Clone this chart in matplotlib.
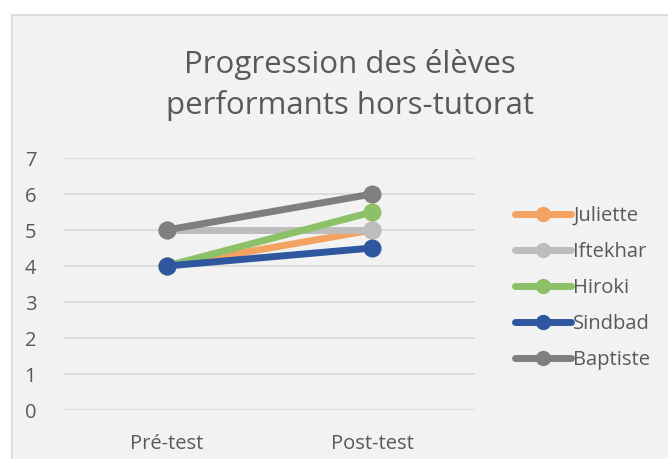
import matplotlib.pyplot as plt
from matplotlib.patches import Rectangle

plt.rcParams['font.family'] = ['Open Sans', 'DejaVu Sans']

categories = ["Pré-test", "Post-test"]
names = ["Juliette", "Iftekhar", "Hiroki", "Sindbad", "Baptiste"]
scores = [
    [4, 5],
    [5, 5],
    [4, 5.5],
    [4, 4.5],
    [5, 6],
]
colors = ["#F4A261", "#BDBDBD", "#8CC168", "#2F57A0", "#7F7F7F"]

text_col = "#595959"
bg = "#F2F2F2"

fig = plt.figure(figsize=(6.68, 4.59), dpi=100)
fig.patch.set_facecolor("white")
# chart area frame (cut off at right and bottom like the screenshot)
fig.patches.append(Rectangle((12 / 668, -0.05), 1.0, 1 - 15 / 459 + 0.05,
                             transform=fig.transFigure, facecolor=bg,
                             edgecolor="#D9D9D9", linewidth=1.2, zorder=-10))

ax = fig.add_axes([64 / 668, 1 - 410 / 459, 411 / 668, 252 / 459])
ax.set_facecolor(bg)
ax.patch.set_alpha(0)

x = [0, 1]
for name, vals, c in zip(names, scores, colors):
    ax.plot(x, vals, color=c, linewidth=5, marker="o", markersize=12,
            label=name, solid_capstyle="round")

ax.set_xlim(-0.5, 1.5)
ax.set_ylim(0, 7)
ax.set_yticks(range(0, 8))
ax.set_xticks(x)
ax.set_xticklabels(categories)
ax.grid(axis="y", color="#D9D9D9", linewidth=1.2)
ax.set_axisbelow(True)
for s in ax.spines.values():
    s.set_visible(False)
ax.tick_params(length=0, labelsize=14.5, colors=text_col)
ax.tick_params(axis="x", pad=17)
ax.tick_params(axis="y", pad=20)

fig.text(350 / 668, 1 - 85 / 459, "Progression des élèves\nperformants hors-tutorat",
         ha="center", va="center", fontsize=22.5, color=text_col, linespacing=1.4)

leg = ax.legend(loc="center left", bbox_to_anchor=(1.004, 0.485), frameon=False,
                fontsize=14.5, labelcolor=text_col, handlelength=2.8,
                labelspacing=0.8, handletextpad=0.1, borderaxespad=1.5)
for h in leg.legend_handles:
    h.set_markersize(10)

fig.savefig("out.png", dpi=100, facecolor="white")
